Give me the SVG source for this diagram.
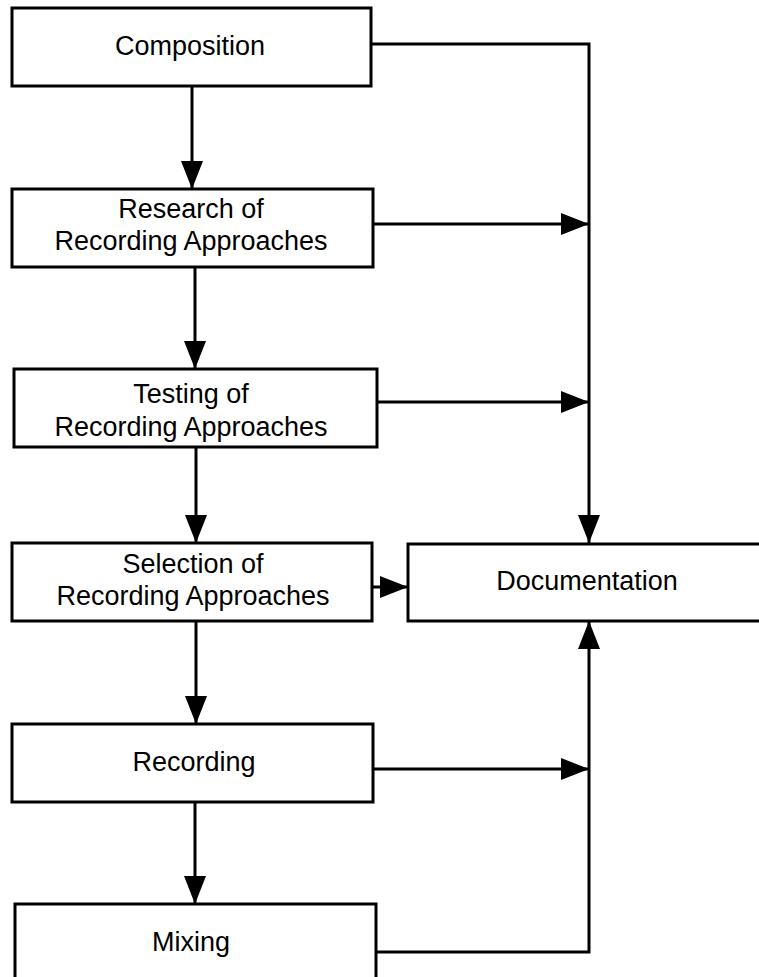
<svg xmlns="http://www.w3.org/2000/svg" width="759" height="977" viewBox="0 0 759 977">
<style>
.box{fill:#fff;stroke:#000;stroke-width:3}
.lbl{font-family:"Liberation Sans",Arial,sans-serif;font-size:27px;fill:#000;text-anchor:middle}
.con{fill:none;stroke:#000;stroke-width:3;marker-end:url(#ah)}
.plain{fill:none;stroke:#000;stroke-width:3}
</style>
<defs>
<marker id="ah" markerUnits="userSpaceOnUse" markerWidth="28" markerHeight="22" refX="28" refY="11" orient="auto" viewBox="0 0 28 22">
<path d="M0,0 L28,11 L0,22 Z" fill="#000"/>
</marker>
</defs>
<rect width="759" height="977" fill="#fff"/>
<g id="connectors">
<path class="con" d="M371,44 H589 V543"/>
<path class="con" d="M373,224 H589"/>
<path class="con" d="M377,402 H589"/>
<path class="con" d="M372,587 H408"/>
<path class="con" d="M373,769 H589"/>
<path class="con" d="M376,952 H589 V621"/>
<path class="con" d="M192,86 V189"/>
<path class="con" d="M195,267 V369"/>
<path class="con" d="M196,447 V543"/>
<path class="con" d="M196,621 V724"/>
<path class="con" d="M195,802 V904"/>
</g>
<g id="composition">
<rect class="box" x="12" y="8" width="359" height="78"/>
<text class="lbl" x="190" y="55">Composition</text>
</g>
<g id="research">
<rect class="box" x="12" y="189" width="361" height="78"/>
<text class="lbl" x="191" y="218">Research of</text>
<text class="lbl" x="191" y="250">Recording Approaches</text>
</g>
<g id="testing">
<rect class="box" x="14" y="369" width="363" height="78"/>
<text class="lbl" x="191" y="403">Testing of</text>
<text class="lbl" x="191" y="436">Recording Approaches</text>
</g>
<g id="selection">
<rect class="box" x="12" y="543" width="360" height="78"/>
<text class="lbl" x="193" y="573">Selection of</text>
<text class="lbl" x="193" y="605">Recording Approaches</text>
</g>
<g id="documentation">
<rect class="box" x="408" y="544" width="370" height="77"/>
<text class="lbl" x="587" y="590">Documentation</text>
</g>
<g id="recording">
<rect class="box" x="12" y="724" width="361" height="78"/>
<text class="lbl" x="194" y="771">Recording</text>
</g>
<g id="mixing">
<rect class="box" x="15" y="904" width="361" height="90"/>
<text class="lbl" x="191" y="951">Mixing</text>
</g>
</svg>
